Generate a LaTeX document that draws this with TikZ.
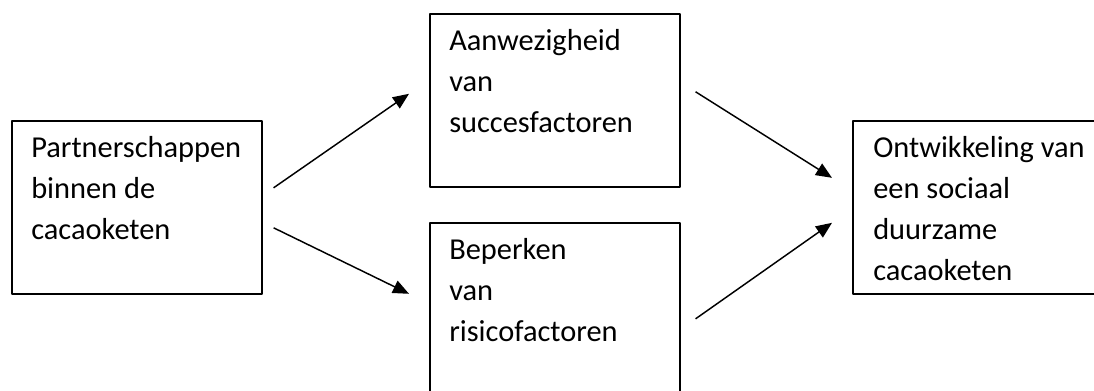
\documentclass[tikz,border=0pt]{standalone}
\usepackage{fontspec}
\setmainfont{Carlito}
\usetikzlibrary{arrows.meta}
\newcommand{\bovenrand}{\rule{0pt}{27.75pt}}
\begin{document}
\begin{tikzpicture}[x=0.75pt, y=-0.75pt, line join=round, >={Triangle[length=12pt,width=10pt]},
	vak/.style={draw, line width=1.2pt, minimum width=187.5pt, minimum height=129.75pt, inner sep=0pt, anchor=north west},
	tekst/.style={anchor=north west, inner sep=0pt, align=left, font=\fontsize{22.8pt}{30.75pt}\selectfont},
	pijl/.style={->, line width=1.1pt}]
	\useasboundingbox (0,0) rectangle (1094,390);
	\clip (0,0) rectangle (1094,390);
	% vakken
	\node[vak] (partner) at (11,120) {};
	\node[vak] (succes) at (429,13) {};
	\node[vak] (risico) at (429,222) {};
	\node[vak] (ontw) at (852,120) {};
	% teksten
	\node[tekst] (partnerT) at ([shift={(20,0)}]partner.north west) {\bovenrand Partnerschappen\\binnen de\\cacaoketen};
	\node[tekst] (successT) at ([shift={(20,0)}]succes.north west) {\bovenrand Aanwezigheid\\van\\succesfactoren};
	\node[tekst] (risicoT) at ([shift={(20,0)}]risico.north west) {\bovenrand Beperken\\van\\risicofactoren};
	\node[tekst] (ontwT) at ([shift={(21,0)}]ontw.north west) {\bovenrand Ontwikkeling van\\een sociaal\\duurzame\\cacaoketen};
	% pijlen
	\draw[pijl] ([shift={(11,-19.5)}]partner.east) -- ([shift={(-20,-6.5)}]succes.west);
	\draw[pijl] ([shift={(11,20.5)}]partner.east) -- ([shift={(-20,-15.5)}]risico.west);
	\draw[pijl] ([shift={(15,-8.5)}]succes.east) -- ([shift={(-20,-29.5)}]ontw.west);
	\draw[pijl] ([shift={(15,9.5)}]risico.east) -- ([shift={(-20,15.5)}]ontw.west);
\end{tikzpicture}
\end{document}
